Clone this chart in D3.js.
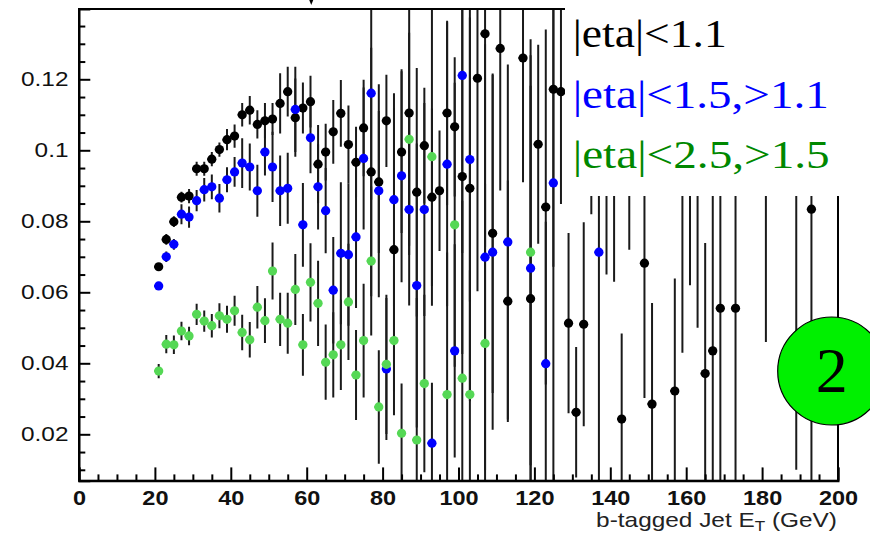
<!DOCTYPE html>
<html><head><meta charset="utf-8">
<script src="https://cdn.jsdelivr.net/npm/d3@7/dist/d3.min.js"></script>
<style>
html,body{margin:0;padding:0;background:#fff;}
svg{display:block;}
</style></head>
<body>
<script>
// ---------------- data ----------------
const blackX   = [21,23,25,27,29,31,33,35,37,39,41,43,45,47,49,51,53,55,57,59,61,63,65,67,69,71,73,75,77,79,81,83,85,87,89,91,93,95,97,99,101,103,105,107,109,111,113,117,119,121,123,125,127,129,131,133,135,139,141,143,145,149,151,157,159,161,163,165,167,169,173,181,189,193];
const blackY   = [0.0672,0.0749,0.0799,0.0868,0.0871,0.0948,0.0948,0.0975,0.1002,0.1030,0.1040,0.1100,0.1113,0.1073,0.1083,0.1088,0.1132,0.1165,0.1092,0.1119,0.1137,0.0961,0.0995,0.1052,0.1104,0.1016,0.0966,0.1063,0.0939,0.0911,0.1083,0.0720,0.0995,0.1105,0.0882,0.1013,0.0868,0.0886,0.1105,0.1066,0.0926,0.0893,0.1203,0.1328,0.0766,0.1287,0.0575,0.1260,0.0582,0.1017,0.0840,0.1172,0.1165,0.0513,0.0262,0.0510,0.1100,0.1100,0.1100,0.0243,0.1100,0.0682,0.0285,0.0322,0.1100,0.1100,0.1100,0.0371,0.0435,0.0555,0.0555,0.1100,0.1100,0.0834];
const blackErr = [0.001,0.0015,0.0015,0.0015,0.002,0.002,0.002,0.002,0.002,0.003,0.0033,0.0033,0.004,0.004,0.005,0.0045,0.0085,0.007,0.011,0.0072,0.0073,0.011,0.008,0.009,0.0094,0.011,0.01,0.0136,0.035,0.02,0.013,0.04,0.0228,0.04,0.035,0.0163,0.025,0.017,0.026,0.0196,0.05,0.06,0.06,0.06,0.045,0.04,0.034,0.035,0.06,0.028,0.05,0.05,0.0316,0.0254,0.0184,0.0287,0.028,0.045,0.047,0.0241,0.038,0.038,0.0285,0.0317,0.067,0.048,0.06,0.0368,0.05,0.06,0.06,0.064,0.1,0.08];

const blueX   = [21,23,25,27,29,31,33,35,37,39,41,43,45,47,49,51,53,55,57,59,61,63,65,67,69,71,73,75,77,79,81,83,85,87,89,91,93,97,99,101,103,107,109,113,119,123,125,137];
const blueY   = [0.0618,0.0700,0.0735,0.0820,0.0812,0.0858,0.0889,0.0897,0.0865,0.0917,0.0939,0.0964,0.0953,0.0886,0.0995,0.0953,0.0886,0.0893,0.1115,0.0790,0.1035,0.0897,0.0830,0.0606,0.0710,0.0706,0.0756,0.0977,0.1161,0.0886,0.0384,0.0861,0.0928,0.0833,0.0619,0.0833,0.0175,0.0961,0.0435,0.1211,0.0974,0.0699,0.0713,0.0742,0.0668,0.0399,0.0908,0.0713];
const blueErr = [0.001,0.0015,0.0015,0.0028,0.003,0.003,0.0033,0.0035,0.004,0.0035,0.0042,0.007,0.0066,0.0073,0.0066,0.0099,0.0099,0.01,0.012,0.0118,0.01,0.012,0.012,0.015,0.02,0.02,0.02,0.02,0.03,0.03,0.02,0.03,0.03,0.027,0.04,0.03,0.017,0.04,0.03,0.05,0.04,0.06,0.05,0.05,0.06,0.04,0.085,0.065];

const greenX   = [21,23,25,27,29,31,33,35,37,39,41,43,45,47,49,51,53,55,57,59,61,63,65,67,69,71,73,75,77,79,81,83,85,87,89,91,93,97,99,101,103,107,119];
const greenY   = [0.0378,0.0454,0.0452,0.0491,0.0477,0.0538,0.0519,0.0506,0.0534,0.0524,0.0548,0.0487,0.0466,0.0558,0.0520,0.0660,0.0524,0.0513,0.0608,0.0452,0.0628,0.0569,0.0403,0.0424,0.0452,0.0573,0.0367,0.0464,0.0688,0.0277,0.0397,0.0464,0.0203,0.1031,0.0184,0.0343,0.0982,0.0312,0.0790,0.0358,0.0312,0.0456,0.0713];
const greenErr = [0.002,0.0026,0.0026,0.0026,0.0026,0.003,0.003,0.0033,0.0035,0.0038,0.0042,0.005,0.005,0.006,0.0063,0.008,0.0075,0.0086,0.01,0.0087,0.011,0.012,0.0106,0.012,0.0127,0.0164,0.0127,0.016,0.021,0.016,0.0196,0.021,0.014,0.03,0.04,0.025,0.042,0.04,0.04,0.05,0.035,0.045,0.06];

const seriesNames  = ["|eta|<1.1", "|eta|<1.5,>1.1", "|eta|<2.5,>1.5"];
const xTickValues  = [0,20,40,60,80,100,120,140,160,180,200];
const yTickValues  = [0.02,0.04,0.06,0.08,0.1,0.12];
const xTitle       = "b-tagged Jet E";
const xTitleSub    = "T";
const xTitleUnit   = " (GeV)";
const badgeLabel   = "2";

// ---------------- layout ----------------
const W = 870, H = 535;
const mLeft = 79, mRight = 838, mTop = 9, mBottom = 480.7;
const svg = d3.select("body").append("svg").attr("width", W).attr("height", H);
svg.append("rect").attr("width", W).attr("height", H).attr("fill", "#fff");

const x = d3.scaleLinear().domain([0, 200]).range([mLeft, mRight]);
const y = d3.scaleLinear().domain([0.00693, 0.1398]).range([mBottom, mTop]);

const series = [
  {x: blackX, y: blackY, e: blackErr, color: "#000000"},
  {x: blueX,  y: blueY,  e: blueErr,  color: "#0000ff"},
  {x: greenX, y: greenY, e: greenErr, color: "#55d855"}
];

svg.append("clipPath").attr("id", "plotclip")
  .append("rect").attr("x", mLeft).attr("y", mTop).attr("width", mRight - mLeft).attr("height", mBottom - mTop);

const plot = svg.append("g").attr("clip-path", "url(#plotclip)");

// error bars
series.forEach(s => {
  const pts = s.x.map((xv, i) => ({x: xv, y: s.y[i], e: s.e[i]}));
  plot.append("g").selectAll("line").data(pts).join("line")
    .attr("x1", d => x(d.x)).attr("x2", d => x(d.x))
    .attr("y1", d => y(d.y + d.e)).attr("y2", d => y(d.y - d.e))
    .attr("stroke", "#1a1a1a").attr("stroke-width", 2);
});
// markers
series.forEach(s => {
  const pts = s.x.map((xv, i) => ({x: xv, y: s.y[i]}));
  const g = plot.append("g");
  g.selectAll("line").data(pts).join("line")
    .attr("x1", d => x(d.x - 1.2)).attr("x2", d => x(d.x + 1))
    .attr("y1", d => y(d.y)).attr("y2", d => y(d.y))
    .attr("stroke", s.color).attr("stroke-width", 2);
  g.selectAll("circle").data(pts).join("circle")
    .attr("cx", d => x(d.x)).attr("cy", d => y(d.y)).attr("r", 4.6)
    .attr("fill", s.color);
});

// frame
svg.append("rect").attr("x", mLeft).attr("y", mTop).attr("width", mRight - mLeft).attr("height", mBottom - mTop)
  .attr("fill", "none").attr("stroke", "#000").attr("stroke-width", 2);

// y axis
const yMinor = d3.range(0.01, 0.1376, 0.005).filter(v => !yTickValues.some(t => Math.abs(t - v) < 1e-9));
svg.append("g").attr("transform", `translate(${mLeft},0)`)
  .call(d3.axisLeft(y).tickValues(yMinor).tickSize(-6.3).tickFormat(""))
  .call(g => g.select(".domain").remove())
  .selectAll("line").attr("stroke-width", 2);
const yAx = svg.append("g").attr("transform", `translate(${mLeft},0)`)
  .call(d3.axisLeft(y).tickValues(yTickValues).tickSize(-11.3).tickPadding(10.5)
        .tickFormat(d => String(+d.toFixed(2))));
yAx.select(".domain").attr("stroke-width", 2);
yAx.selectAll("line").attr("stroke-width", 2);
yAx.selectAll("text")
  .attr("font-family", "Liberation Sans, Arial, sans-serif").attr("font-size", 20).attr("fill", "#111")
  .attr("x", -10.5 / 1.22).attr("transform", "scale(1.22,1)");

// x axis
const xMinor = d3.range(5, 200, 5).filter(v => v % 20 !== 0);
svg.append("g").attr("transform", `translate(0,${mBottom})`)
  .call(d3.axisBottom(x).tickValues(xMinor).tickSize(-6.3).tickFormat(""))
  .call(g => g.select(".domain").remove())
  .selectAll("line").attr("stroke-width", 2);
const xAx = svg.append("g").attr("transform", `translate(0,${mBottom})`)
  .call(d3.axisBottom(x).tickValues(xTickValues).tickSize(-13.3).tickPadding(9.3));
xAx.select(".domain").attr("stroke-width", 2);
xAx.selectAll("line").attr("stroke-width", 2);
xAx.selectAll("text")
  .attr("font-family", "Liberation Sans, Arial, sans-serif").attr("font-size", 21)
  .attr("font-weight", "bold").attr("fill", "#111")
  .attr("transform", "scale(1.12,1)");

// x title
const xt = svg.append("text")
  .attr("transform", `translate(837,526.7) scale(1.22,1)`)
  .attr("text-anchor", "end")
  .attr("font-family", "Liberation Sans, Arial, sans-serif").attr("font-size", 20).attr("fill", "#222");
xt.append("tspan").text(xTitle);
xt.append("tspan").attr("font-size", 14).attr("dy", 4).text(xTitleSub);
xt.append("tspan").attr("dy", -4).text(xTitleUnit);

// small marker above frame
svg.append("path").attr("d", d3.line()([[x(61.2) - 2, 0], [x(61.2) + 2, 0], [x(61.2), 5]]) + "Z")
  .attr("fill", "#000");

// legend box
svg.append("rect").attr("x", 565).attr("y", 0).attr("width", W - 565).attr("height", 196).attr("fill", "#fff");
const legendColors = ["#000000", "#0000ff", "#008800"];
const legendBase = [46.7, 108.3, 168.3];
const legendLen = [154, 256, 257];
svg.append("g").selectAll("text").data(seriesNames).join("text")
  .attr("x", 572.7).attr("y", (d, i) => legendBase[i])
  .attr("textLength", (d, i) => legendLen[i]).attr("lengthAdjust", "spacingAndGlyphs")
  .attr("font-family", "Liberation Serif, Times New Roman, serif").attr("font-size", 40)
  .attr("fill", (d, i) => legendColors[i])
  .text(d => d);

// badge
svg.append("circle").attr("cx", 831.7).attr("cy", 371).attr("r", 54)
  .attr("fill", "#00f000").attr("stroke", "#000").attr("stroke-width", 1.2);
svg.append("text").attr("x", 831.7).attr("y", 391.7).attr("text-anchor", "middle")
  .attr("font-family", "Liberation Serif, Times New Roman, serif").attr("font-size", 64)
  .attr("fill", "#000").text(badgeLabel);
</script>
</body></html>
